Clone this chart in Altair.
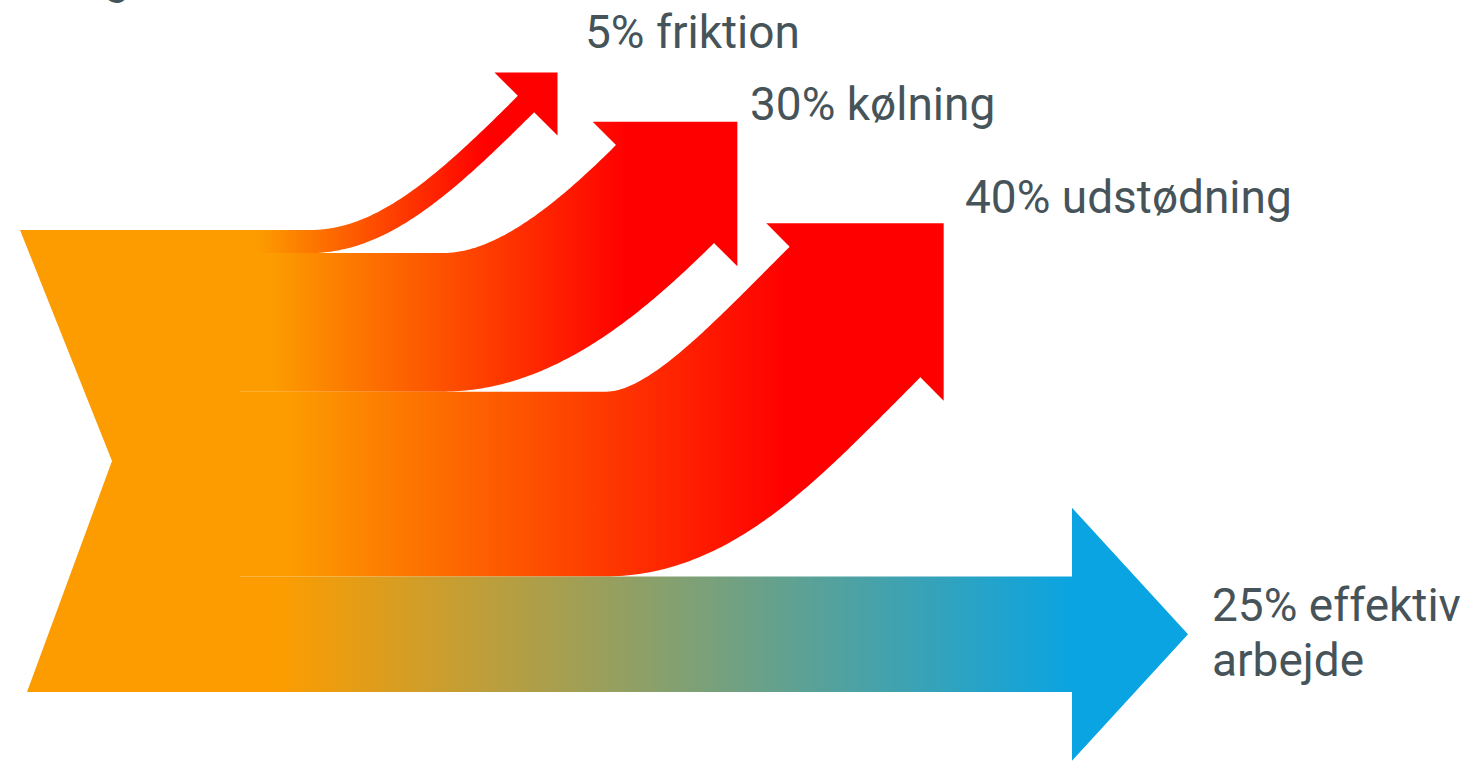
import numpy as np
import pandas as pd
import altair as alt

# Energy balance of a combustion engine: where the fuel energy goes (%)
names = ["friktion", "kølning", "udstødning", "effektiv\narbejde"]
shares = [5, 30, 40, 25]
source_label = "100%\nenergi"

# ---- layout (pixel space of the canvas) ----
W, H = 1481, 761
TOP, BOTTOM = 230.0, 692.0            # vertical extent of the 100 % input block
SRC_LEFT, SRC_NOTCH, SRC_LEFT_BOTTOM = 20.0, 112.0, 27.0
SRC_RIGHT = 240.0
FLOW_X0 = 232.0
PX_PER_PCT = (BOTTOM - TOP) / 100.0

# curved loss flows: x where each band starts to bend, and the centre of its arrow-head base
bend_x = [310.0, 442.0, 605.0]
head_base = [(526.0, 104.0), (665.0, 194.0), (855.0, 312.0)]
BARB = 33.0
HANDLE_START = 0.28
HANDLE_END = 0.45

# straight useful-work flow
straight_head_x = 1072.0
straight_head_half = 126.5
straight_tip_len = 116.0

label_pos = [(585, 48), (750, 120), (965, 213), (1212, 621)]
source_label_pos = (15, -61)

ORANGE = "#FC9C00"
RED = "#FF0000"
BLUE = "#0AA4E2"
TEXT = "#46545A"


def bezier(p0, p1, p2, p3, n=90):
    t = np.linspace(0.0, 1.0, n)[:, None]
    pts = (1 - t) ** 3 * p0 + 3 * (1 - t) ** 2 * t * p1 + 3 * (1 - t) * t ** 2 * p2 + t ** 3 * p3
    der = 3 * (1 - t) ** 2 * (p1 - p0) + 6 * (1 - t) * t * (p2 - p1) + 3 * t ** 2 * (p3 - p2)
    der = der / np.linalg.norm(der, axis=1, keepdims=True)
    return pts, der


rows = []


def add_polygon(key, pts):
    for i, (x, y) in enumerate(pts):
        rows.append({"shape": key, "i": i, "x": float(x), "y": float(y)})


# input block with a chevron notch on the left
mid = (TOP + BOTTOM) / 2
add_polygon("kilde", [(SRC_LEFT, TOP), (SRC_RIGHT, TOP), (SRC_RIGHT, BOTTOM),
                      (SRC_LEFT_BOTTOM, BOTTOM), (SRC_NOTCH, mid)])

d = np.array([1.0, -1.0]) / np.sqrt(2)   # arrow direction (up-right)
nrm = np.array([1.0, 1.0]) / np.sqrt(2)  # across the arrow (down-right)

y_cursor = TOP
for k, share in enumerate(shares):
    w = share * PX_PER_PCT
    y0, y1 = y_cursor, y_cursor + w
    yc = (y0 + y1) / 2
    y_cursor = y1
    if k < 3:
        p0 = np.array([bend_x[k], yc])
        b = np.array(head_base[k])
        L = np.linalg.norm(b - p0)
        p1 = p0 + np.array([HANDLE_START * L, 0.0])
        p2 = b - HANDLE_END * L * d
        pts, tan = bezier(p0, p1, p2, b)
        up = pts + (w / 2) * np.column_stack([tan[:, 1], -tan[:, 0]])
        lo = pts + (w / 2) * np.column_stack([-tan[:, 1], tan[:, 0]])
        hw = w / 2 + BARB
        poly = [(FLOW_X0, y0)] + [tuple(p) for p in up]
        poly += [tuple(b - hw * nrm), tuple(b + hw * d), tuple(b + hw * nrm)]
        poly += [tuple(p) for p in lo[::-1]] + [(FLOW_X0, y1)]
    else:
        hx = straight_head_x
        poly = [(FLOW_X0, y0), (hx, y0), (hx, yc - straight_head_half),
                (hx + straight_tip_len, yc), (hx, yc + straight_head_half),
                (hx, y1), (FLOW_X0, y1)]
    add_polygon(f"flow{k}", poly)

df = pd.DataFrame(rows)

labels = pd.DataFrame({
    "x": [p[0] for p in label_pos] + [source_label_pos[0]],
    "y": [p[1] for p in label_pos] + [source_label_pos[1]],
    "text": [f"{s}% {n}" for s, n in zip(shares, names)] + [source_label],
})

xs = alt.Scale(domain=[0, W], nice=False, zero=False)
ys = alt.Scale(domain=[0, H], nice=False, zero=False, reverse=True)


def grad(stops):
    return alt.LinearGradient(
        gradient="linear", x1=0, y1=0, x2=1, y2=0,
        stops=[alt.GradientStop(color=c, offset=o) for o, c in stops],
    )


red_grad = grad([(0.0, ORANGE), (0.08, ORANGE), (0.78, RED), (1.0, RED)])
blue_grad = grad([(0.0, ORANGE), (0.05, ORANGE), (0.88, BLUE), (1.0, BLUE)])

base = alt.Chart(df).encode(
    x=alt.X("x:Q", scale=xs, axis=None),
    y=alt.Y("y:Q", scale=ys, axis=None),
    order=alt.Order("i:Q"),
)


def shape(key, fill):
    return base.transform_filter(alt.datum.shape == key).mark_line(
        fill=fill, strokeWidth=0, interpolate="linear"
    )


layers = [shape("flow0", red_grad), shape("flow1", red_grad), shape("flow2", red_grad),
          shape("flow3", blue_grad), shape("kilde", ORANGE)]

text = alt.Chart(labels).mark_text(
    align="left", baseline="alphabetic", font="Roboto", fontSize=46,
    color=TEXT, lineBreak="\n", lineHeight=55,
).encode(
    x=alt.X("x:Q", scale=xs, axis=None),
    y=alt.Y("y:Q", scale=ys, axis=None),
    text="text:N",
)

chart = alt.layer(*layers, text).properties(
    width=W, height=H, padding=0, autosize="none"
).configure_view(stroke=None)

chart.save("out.html", embed_options={"renderer": "svg", "actions": False})
